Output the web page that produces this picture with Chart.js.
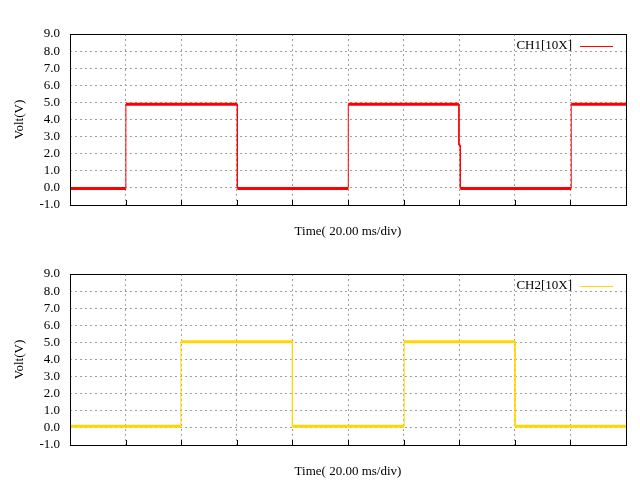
<!DOCTYPE html>
<html>
<head>
<meta charset="utf-8">
<script src="https://cdn.jsdelivr.net/npm/chart.js@4/dist/chart.umd.min.js"></script>
<style>
body{margin:0;background:#fff}
.box{width:640px;height:240px}
</style>
</head>
<body>
<div class="box"><canvas id="ch1Chart" width="640" height="240"></canvas></div>
<div class="box"><canvas id="ch2Chart" width="640" height="240"></canvas></div>
<script>

/* DATA (time in ms, 20 ms per division) */

const voltTicks = [-1,0,1,2,3,4,5,6,7,8,9]

const ch1Time = [0,20.1,20.1,60.2,60.2,100.1,100.1,139.9,139.9,140.4,140.4,180.3,180.3,200]
const ch1Volt = [-0.03,-0.03,4.89,4.89,-0.03,-0.03,4.89,4.89,2.5,2.5,-0.03,-0.03,4.89,4.89]

const ch2Time = [0,39.9,39.9,80.0,80.0,120.2,120.2,160.1,160.1,200]
const ch2Volt = [0.09,0.09,5.04,5.04,0.09,0.09,5.04,5.04,0.09,0.09]



const FONT = {family:"'Liberation Serif', serif", size:13}

/* frame, inside ticks and legend like gnuplot */

const scopeFrame = {

id:"scopeFrame",

afterDraw(chart){

const ctx = chart.ctx
const a = chart.chartArea
const xs = chart.scales.x

ctx.save()

ctx.strokeStyle = "#000"
ctx.lineWidth = 1
ctx.strokeRect(a.left+0.5, a.top+0.5, a.right-a.left, a.bottom-a.top)

ctx.beginPath()
xs.ticks.forEach(t=>{
const px = Math.round(xs.getPixelForValue(t.value))+0.5
ctx.moveTo(px, a.bottom)
ctx.lineTo(px, a.bottom-5)
})
ctx.stroke()

const ds = chart.data.datasets[0]
const ly = a.top+12

ctx.font = FONT.size+"px "+FONT.family
ctx.fillStyle = "#000"
ctx.textAlign = "right"
ctx.textBaseline = "middle"
ctx.fillText(ds.label, a.left+502, ly)

ctx.strokeStyle = ds.borderColor
ctx.beginPath()
ctx.moveTo(a.left+510, ly+0.5)
ctx.lineTo(a.left+543, ly+0.5)
ctx.stroke()

ctx.restore()

}

}



function makeScope(id, label, times, volts, color){

return new Chart(

document.getElementById(id),

{

type:"line",

data:{

datasets:[{

label:label,

data:times.map((t,i)=>({x:t, y:volts[i]})),

borderColor:color,

borderWidth:3,

pointRadius:0,

tension:0,

segment:{

borderWidth:c=> c.p0.parsed.x===c.p1.parsed.x ? 1 : 3

}

}]

},

options:{

responsive:false,
animation:false,
devicePixelRatio:1,

layout:{padding:{top:34,right:14,left:0,bottom:0}},

plugins:{legend:{display:false}, tooltip:{enabled:false}},

scales:{

x:{

type:"linear",
min:0,
max:200,

ticks:{display:false, stepSize:20},

grid:{color:"#a0a0a0", drawTicks:false},

border:{display:false, dash:[2,3]},

title:{display:true, text:"Time( 20.00 ms/div)", color:"#000", font:FONT, padding:{top:0,bottom:1}},

afterFit(s){ s.height = 35 }

},

y:{

min:-1,
max:9,

afterBuildTicks(s){ s.ticks = voltTicks.map(v=>({value:v})) },

ticks:{color:"#000", font:FONT, padding:10, autoSkip:false, callback:v=>Number(v).toFixed(1)},

grid:{color:"#a0a0a0", drawTicks:false},

border:{display:false, dash:[2,3]},

title:{display:true, text:"Volt(V)", color:"#000", font:FONT, padding:{top:12,bottom:0}},

afterFit(s){ s.width = 70 }

}

}

},

plugins:[scopeFrame]

}

)

}



const ch1Chart = makeScope("ch1Chart", "CH1[10X]", ch1Time, ch1Volt, "#ff0000")

const ch2Chart = makeScope("ch2Chart", "CH2[10X]", ch2Time, ch2Volt, "#ffd700")

</script>
</body>
</html>
